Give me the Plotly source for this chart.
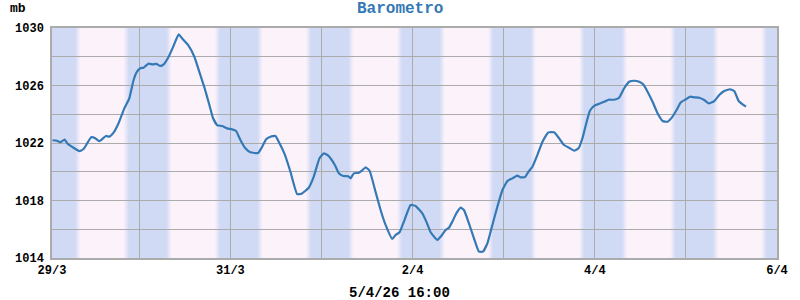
import plotly.graph_objects as go
from datetime import datetime, timedelta

# ---- data ----
times = [
    "2026-03-29 01:08", "2026-03-29 02:17", "2026-03-29 03:10", "2026-03-29 04:18", "2026-03-29 05:12",
    "2026-03-29 06:40", "2026-03-29 08:15", "2026-03-29 09:19", "2026-03-29 11:20", "2026-03-29 12:24",
    "2026-03-29 13:27", "2026-03-29 15:13", "2026-03-29 16:05", "2026-03-29 17:13", "2026-03-29 18:32",
    "2026-03-29 20:03", "2026-03-29 21:22", "2026-03-29 22:30", "2026-03-29 23:24", "2026-03-30 00:16",
    "2026-03-30 01:08", "2026-03-30 02:27", "2026-03-30 03:31", "2026-03-30 04:29", "2026-03-30 05:32",
    "2026-03-30 06:25", "2026-03-30 07:44", "2026-03-30 09:03", "2026-03-30 10:22", "2026-03-30 11:25",
    "2026-03-30 12:50", "2026-03-30 14:30", "2026-03-30 16:05", "2026-03-30 17:13", "2026-03-30 18:28",
    "2026-03-30 19:26", "2026-03-30 20:30", "2026-03-30 21:49", "2026-03-30 23:08", "2026-03-31 00:27",
    "2026-03-31 01:30", "2026-03-31 02:38", "2026-03-31 03:57", "2026-03-31 05:16", "2026-03-31 07:18",
    "2026-03-31 08:22", "2026-03-31 09:25", "2026-03-31 10:33", "2026-03-31 11:52", "2026-03-31 12:44",
    "2026-03-31 14:19", "2026-03-31 15:49", "2026-03-31 17:35", "2026-03-31 18:44", "2026-03-31 20:39",
    "2026-03-31 21:58", "2026-03-31 23:28", "2026-04-01 00:37", "2026-04-01 01:46", "2026-04-01 03:31",
    "2026-04-01 04:34", "2026-04-01 05:43", "2026-04-01 07:02", "2026-04-01 07:39", "2026-04-01 08:31",
    "2026-04-01 09:50", "2026-04-01 10:44", "2026-04-01 11:37", "2026-04-01 12:40", "2026-04-01 14:14",
    "2026-04-01 15:34", "2026-04-01 16:53", "2026-04-01 18:39", "2026-04-01 19:31", "2026-04-01 20:34",
    "2026-04-01 21:58", "2026-04-01 23:28", "2026-04-02 00:47", "2026-04-02 02:34", "2026-04-02 03:37",
    "2026-04-02 04:45", "2026-04-02 06:31", "2026-04-02 07:23", "2026-04-02 08:42", "2026-04-02 09:35",
    "2026-04-02 10:28", "2026-04-02 11:32", "2026-04-02 12:40", "2026-04-02 13:32", "2026-04-02 14:41",
    "2026-04-02 16:10", "2026-04-02 17:29", "2026-04-02 18:32", "2026-04-02 19:42", "2026-04-02 21:01",
    "2026-04-02 22:20", "2026-04-02 23:40", "2026-04-03 00:59", "2026-04-03 02:18", "2026-04-03 03:37",
    "2026-04-03 04:29", "2026-04-03 05:37", "2026-04-03 06:31", "2026-04-03 07:34", "2026-04-03 08:53",
    "2026-04-03 10:13", "2026-04-03 11:47", "2026-04-03 13:16", "2026-04-03 14:35", "2026-04-03 15:55",
    "2026-04-03 17:13", "2026-04-03 18:32", "2026-04-03 19:42", "2026-04-03 20:45", "2026-04-03 21:38",
    "2026-04-03 22:41", "2026-04-03 23:49", "2026-04-04 01:08", "2026-04-04 02:27", "2026-04-04 03:37",
    "2026-04-04 05:05", "2026-04-04 06:25", "2026-04-04 07:44", "2026-04-04 09:03", "2026-04-04 10:22",
    "2026-04-04 11:41", "2026-04-04 12:44", "2026-04-04 13:54", "2026-04-04 15:13", "2026-04-04 16:32",
    "2026-04-04 17:52", "2026-04-04 19:11", "2026-04-04 20:29", "2026-04-04 21:33", "2026-04-04 22:41",
    "2026-04-05 00:00", "2026-04-05 01:03", "2026-04-05 02:11", "2026-04-05 03:31", "2026-04-05 04:50",
    "2026-04-05 05:59", "2026-04-05 07:28", "2026-04-05 08:47", "2026-04-05 10:06", "2026-04-05 11:37",
    "2026-04-05 12:44", "2026-04-05 13:54", "2026-04-05 14:57", "2026-04-05 15:49",
]
pressure_mb = [
    1022.19, 1022.16, 1022.05, 1022.23, 1021.93,
    1021.67, 1021.44, 1021.58, 1022.40, 1022.33,
    1022.12, 1022.49, 1022.44, 1022.72, 1023.37,
    1024.41, 1025.11, 1026.38, 1026.96, 1027.20,
    1027.24, 1027.52, 1027.47, 1027.50, 1027.36,
    1027.47, 1028.00, 1028.77, 1029.56, 1029.23,
    1028.82, 1028.00, 1026.73, 1025.81, 1024.64,
    1023.72, 1023.25, 1023.18, 1023.02, 1022.95,
    1022.83, 1022.21, 1021.63, 1021.35, 1021.30,
    1021.74, 1022.26, 1022.44, 1022.49, 1022.09,
    1021.21, 1020.00, 1018.45, 1018.47, 1018.89,
    1019.66, 1020.94, 1021.28, 1021.12, 1020.47,
    1019.89, 1019.70, 1019.68, 1019.54, 1019.89,
    1019.93, 1020.10, 1020.31, 1020.07, 1018.61,
    1017.34, 1016.30, 1015.32, 1015.60, 1015.79,
    1016.71, 1017.69, 1017.62, 1017.11, 1016.53,
    1015.79, 1015.25, 1015.48, 1015.95, 1016.11,
    1016.53, 1017.11, 1017.50, 1017.34, 1016.53,
    1015.37, 1014.44, 1014.44, 1015.02, 1016.30,
    1017.57, 1018.73, 1019.36, 1019.54, 1019.73,
    1019.61, 1019.63, 1020.00, 1020.35, 1021.17,
    1022.09, 1022.74, 1022.74, 1022.33, 1021.86,
    1021.67, 1021.46, 1021.63, 1022.33, 1023.25,
    1024.23, 1024.59, 1024.73, 1024.87, 1025.01,
    1025.01, 1025.15, 1025.81, 1026.26, 1026.33,
    1026.26, 1026.08, 1025.57, 1024.87, 1024.07,
    1023.53, 1023.48, 1023.83, 1024.30, 1024.83,
    1025.04, 1025.22, 1025.18, 1025.15, 1024.99,
    1024.76, 1024.92, 1025.34, 1025.62, 1025.74,
    1025.62, 1024.92, 1024.69, 1024.53,
]

night_start = ["2026-03-28 20:38", "2026-03-29 20:38", "2026-03-30 20:38", "2026-03-31 20:38",
               "2026-04-01 20:38", "2026-04-02 20:38", "2026-04-03 20:38", "2026-04-04 20:38",
               "2026-04-05 20:38"]
night_end = ["2026-03-29 07:44", "2026-03-30 07:44", "2026-03-31 07:44", "2026-04-01 07:44",
             "2026-04-02 07:44", "2026-04-03 07:44", "2026-04-04 07:44", "2026-04-05 07:44",
             "2026-04-06 07:44"]

x_start = "2026-03-29 01:00"
x_end = "2026-04-06 00:00"
day_ticks = ["2026-03-30", "2026-03-31", "2026-04-01", "2026-04-02", "2026-04-03",
             "2026-04-04", "2026-04-05", "2026-04-06"]
x_tick_labels = ["29/3", "", "31/3", "", "2/4", "", "4/4", "", "6/4"]
y_ticks = [1014, 1016, 1018, 1020, 1022, 1024, 1026, 1028, 1030]
y_tick_labels = ["1014", "", "1018", "", "1022", "", "1026", "", "1030"]
title_text = "Barometro"
unit_text = "mb"
updated_text = "5/4/26 16:00"

# ---- style ----
FONT = "Liberation Mono, Courier New, monospace"
PINK = (252, 242, 250)
BLUE = (205, 216, 245)
LINE = "#3479b5"
GRID = "#ababab"

fig = go.Figure()
fig.add_trace(go.Scatter(x=times, y=pressure_mb, mode="lines",
                         line=dict(color=LINE, width=2.2, shape="spline", smoothing=0.4),
                         hoverinfo="x+y"))

# night bands with soft edges
fmt = "%Y-%m-%d %H:%M"
W = timedelta(minutes=90)
N = 6
for s, e in zip(night_start, night_end):
    ts = datetime.strptime(s, fmt)
    te = datetime.strptime(e, fmt)
    for i in range(N):
        f = (i + 0.5) / N
        c = tuple(round(PINK[k] + (BLUE[k] - PINK[k]) * f) for k in range(3))
        off = -W / 2 + W * i / N
        fig.add_shape(type="rect", xref="x", yref="paper",
                      x0=ts + off, x1=te - off, y0=0, y1=1,
                      fillcolor="rgb(%d,%d,%d)" % c, line=dict(width=0), layer="below")

fig.update_layout(
    width=800, height=300,
    margin=dict(l=52, r=23, t=28, b=42),
    paper_bgcolor="white",
    plot_bgcolor="rgb(%d,%d,%d)" % PINK,
    showlegend=False,
    font=dict(family=FONT, size=12, color="black"),
    xaxis=dict(range=[x_start, x_end], tickmode="array",
               tickvals=[x_start] + day_ticks, ticktext=x_tick_labels,
               showgrid=True, gridcolor=GRID, gridwidth=1.3,
               showline=True, linecolor=GRID, linewidth=1.5, mirror=True,
               ticks="", zeroline=False,
               tickfont=dict(family=FONT, size=12, color="black", weight="bold")),
    yaxis=dict(range=[1014, 1030], tickmode="array",
               tickvals=y_ticks, ticktext=y_tick_labels,
               showgrid=True, gridcolor=GRID, gridwidth=1.3,
               showline=True, linecolor=GRID, linewidth=1.5, mirror=True,
               ticks="", zeroline=False, ticklabelstandoff=4,
               tickfont=dict(family=FONT, size=12, color="black", weight="bold")),
    annotations=[
        dict(text=title_text, xref="paper", yref="paper", x=(400 - 52) / 726, y=1 + (28 - 9) / 230,
             showarrow=False, xanchor="center", yanchor="middle",
             font=dict(family=FONT, size=16, color=LINE, weight="bold")),
        dict(text=unit_text, xref="paper", yref="paper", x=(18 - 52) / 726, y=1 + (28 - 8) / 230,
             showarrow=False, xanchor="center", yanchor="middle",
             font=dict(family=FONT, size=13, color="black", weight="bold")),
        dict(text=updated_text, xref="paper", yref="paper", x=(400 - 52) / 726, y=(258 - 293) / 230,
             showarrow=False, xanchor="center", yanchor="middle",
             font=dict(family=FONT, size=14, color="black", weight="bold")),
    ],
)

fig.write_html("out.html")
